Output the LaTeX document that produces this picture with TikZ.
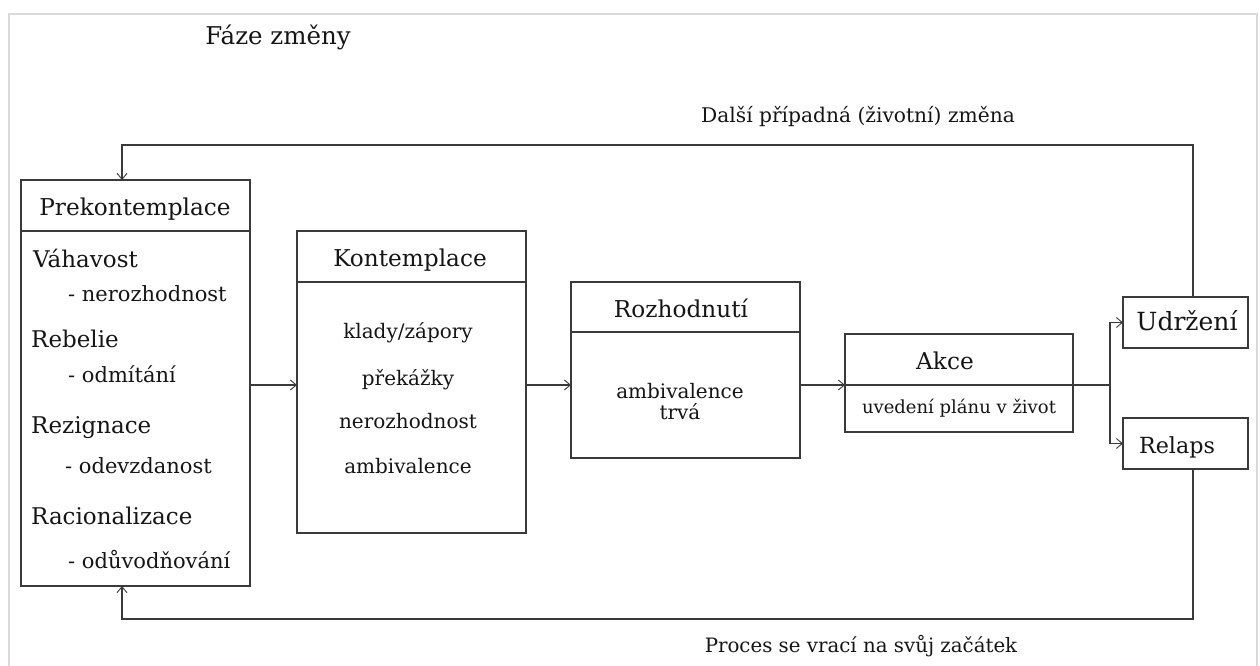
\documentclass[tikz,border=0pt]{standalone}
\usepackage{fontspec}
\setmainfont{DejaVu Serif}
\usetikzlibrary{arrows.meta}
\definecolor{linecol}{HTML}{3A3A3A}
\definecolor{txt}{HTML}{151515}
\definecolor{framecol}{HTML}{DADADA}
\newcommand{\fs}[1]{\fontsize{#1}{#1}\selectfont}
\begin{document}
\begin{tikzpicture}[x=1pt,y=-1pt,
  box/.style={draw=linecol, line width=1.2pt, inner sep=0pt, outer sep=0pt, anchor=north west},
  wire/.style={draw=linecol, line width=1.2pt},
  arr/.style={wire, -{Straight Barb[length=6pt,width=10pt,line width=0.9pt]}},
  lab/.style={anchor=base, text=txt, inner sep=0pt},
  labl/.style={anchor=base west, text=txt, inner sep=0pt},
  head/.style={lab, font=\fs{23.2}},
  body/.style={lab, font=\fs{20}},
  item/.style={labl, font=\fs{23}},
  sub/.style={labl, font=\fs{21}}]
\useasboundingbox (0,0) rectangle (1260,666);
% outer frame
\draw[framecol, line width=2.5pt] (9,14) rectangle (1257,690);

% title
\node[lab, font=\fs{24.5}] (title) at (278,45) {Fáze změny};

% boxes
\node[box, minimum width=229pt, minimum height=406pt] (prek) at (21,180) {};
\node[box, minimum width=229pt, minimum height=302pt] (kont) at (297,231) {};
\node[box, minimum width=229pt, minimum height=176pt] (rozh) at (571,282) {};
\node[box, minimum width=228pt, minimum height=98pt] (akce) at (845,334) {};
\node[box, minimum width=125pt, minimum height=51pt] (udrz) at (1123,297) {};
\node[box, minimum width=125pt, minimum height=51pt] (rel) at (1123,418) {};

% header dividers
\draw[wire] (prek.west |- 0,231) -- (prek.east |- 0,231);
\draw[wire] (kont.west |- 0,282) -- (kont.east |- 0,282);
\draw[wire] (rozh.west |- 0,332) -- (rozh.east |- 0,332);
\draw[wire] (akce.west |- 0,385) -- (akce.east |- 0,385);

% Prekontemplace
\node[head] (prekh) at (135,215) {Prekontemplace};
\node[item] (p1) at (33,267) {Váhavost};
\node[sub]  (p1s) at (68,301) {- nerozhodnost};
\node[item] (p2) at (31,347) {Rebelie};
\node[sub]  (p2s) at (68,382) {- odmítání};
\node[item] (p3) at (31,433) {Rezignace};
\node[sub]  (p3s) at (65,473) {- odevzdanost};
\node[item] (p4) at (31,524) {Racionalizace};
\node[sub]  (p4s) at (68,568) {- odůvodňování};

% Kontemplace
\node[head] (konth) at (410,266) {Kontemplace};
\node[body] (k1) at (408,338) {klady/zápory};
\node[body] (k2) at (408,385) {překážky};
\node[body] (k3) at (408,428) {nerozhodnost};
\node[body] (k4) at (408,473) {ambivalence};

% Rozhodnuti
\node[head] (rozhh) at (681,317) {Rozhodnutí};
\node[body] (r1) at (680,398) {ambivalence};
\node[body] (r2) at (680,419) {trvá};

% Akce
\node[head] (akceh) at (945,369) {Akce};
\node[lab, font=\fs{18}] (a1) at (959,413) {uvedení plánu v život};

% outcomes
\node[lab, font=\fs{25}] (udrzt) at (1187,330) {Udržení};
\node[lab, font=\fs{22.2}] (relt) at (1177,453) {Relaps};

% loop labels
\node[lab, font=\fs{20.2}] (next) at (858,123) {Další případná (životní) změna};
\node[lab, font=\fs{19.8}] (back) at (861,652) {Proces se vrací na svůj začátek};

% flow arrows
\draw[arr] (prek.east |- 0,385) -- (kont.west |- 0,385);
\draw[arr] (kont.east |- 0,385) -- (rozh.west |- 0,385);
\draw[arr] (rozh.east |- 0,385) -- (akce.west |- 0,385);
\coordinate (br) at (1110,385);
\draw[wire] (akce.east |- 0,385) -- (br);
\draw[arr] (br) |- (udrz.west);
\draw[arr] (br) |- (rel.west);

% feedback loops
\coordinate (topc) at (1193,145);
\coordinate (botc) at (1193,619);
\draw[arr] (udrz.north -| topc) -- (topc) -- (122,145) -- (prek.north -| 122,0);
\draw[arr] (rel.south -| botc) -- (botc) -- (122,619) -- (prek.south -| 122,0);
\end{tikzpicture}
\end{document}
